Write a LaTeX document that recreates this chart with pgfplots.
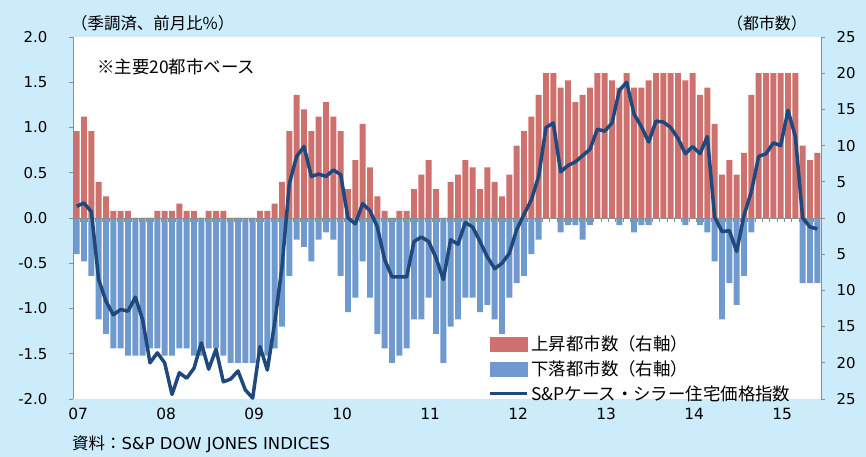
\documentclass[border=0pt]{standalone}
\usepackage{pgfplots}
\pgfplotsset{compat=1.18}
\usepackage{pgfplotstable}
\usepackage{fontspec}
\setmainfont{Noto Sans CJK JP}
\newfontfamily\numfont{DejaVu Sans}
\definecolor{bgblue}{RGB}{204,236,252}
\definecolor{upred}{RGB}{205,113,110}
\definecolor{dnblue}{RGB}{112,154,205}
\definecolor{navy}{RGB}{31,73,125}
\definecolor{axgray}{RGB}{140,140,140}

\pgfplotstableread{
i up dn v
0 12 5 0.13
1 14 6 0.165
2 12 8 0.07
3 5 14 -0.68
4 3 16 -0.92
5 1 18 -1.07
6 1 18 -1.01
7 1 19 -1.03
8 0 19 -0.875
9 0 19 -1.125
10 0 18 -1.60
11 1 18 -1.49
12 1 19 -1.60
13 1 19 -1.95
14 2 18 -1.71
15 1 18 -1.77
16 1 19 -1.66
17 0 19 -1.38
18 1 18 -1.67
19 1 18 -1.45
20 1 19 -1.81
21 0 20 -1.78
22 0 20 -1.69
23 0 20 -1.90
24 0 20 -1.99
25 1 19 -1.42
26 1 19 -1.68
27 2 18 -1.16
28 5 15 -0.54
29 12 8 0.38
30 17 3 0.68
31 15 4 0.79
32 12 6 0.46
33 14 3 0.485
34 16 2 0.46
35 14 3 0.53
36 12 8 0.48
37 4 13 0.0
38 8 11 -0.065
39 13 6 0.16
40 7 11 0.08
41 3 16 -0.1
42 1 18 -0.46
43 0 20 -0.65
44 1 19 -0.65
45 1 18 -0.65
46 4 14 -0.26
47 6 14 -0.21
48 8 11 -0.26
49 4 16 -0.44
50 0 20 -0.68
51 5 15 -0.24
52 6 14 -0.29
53 8 11 -0.05
54 7 11 -0.1
55 4 13 -0.26
56 7 12 -0.43
57 5 14 -0.56
58 3 16 -0.5
59 6 11 -0.39
60 10 9 -0.13
61 12 8 0.04
62 14 5 0.2
63 17 3 0.46
64 20 0 1.0
65 20 0 1.05
66 18 2 0.51
67 19 1 0.58
68 16 1 0.62
69 17 3 0.69
70 18 1 0.76
71 20 0 0.98
72 20 0 0.96
73 19 0 1.05
74 18 1 1.41
75 20 0 1.50
76 18 2 1.15
77 18 1 1.01
78 19 1 0.84
79 20 0 1.07
80 20 0 1.06
81 20 0 1.0
82 20 0 0.88
83 19 1 0.71
84 20 0 0.79
85 17 1 0.71
86 18 2 0.9
87 13 6 0.01
88 6 14 -0.15
89 8 9 -0.14
90 6 12 -0.37
91 9 8 0.03
92 17 2 0.29
93 20 0 0.68
94 20 0 0.71
95 20 0 0.83
96 20 0 0.8
97 20 0 1.19
98 20 0 0.9
99 10 9 0.0
100 8 9 -0.1
101 9 9 -0.12
}\data

\begin{document}
\begin{tikzpicture}
\useasboundingbox (0,0) rectangle (866bp,457bp);
\fill[bgblue] (0,0) rectangle (866bp,457bp);
\begin{axis}[
  at={(73bp,58bp)}, anchor=south west, scale only axis,
  width=748bp, height=362bp,
  xmin=-0.5, xmax=101.5, ymin=-25, ymax=25,
  axis background/.style={fill=white},
  axis y line*=right, axis x line*=middle,
  axis on top,
  axis line style={axgray, line width=0.8bp},
  ytick={-25,-20,-15,-10,-5,0,5,10,15,20,25},
  yticklabels={25,20,15,10,5,0,5,10,15,20,25},
  ytick align=outside, xtick align=outside,
  major tick length=4bp,
  tick style={axgray, line width=0.8bp},
  xtick={-0.5,0.5,...,101.5}, xticklabels={},
  yticklabel style={font=\numfont\fontsize{15}{17}\selectfont, xshift=8bp, text=black},
]
\addplot[ybar, bar width=0.8, bar shift=0pt, fill=upred, draw=none] table[x=i, y=up] {\data};
\addplot[ybar, bar width=0.8, bar shift=0pt, fill=dnblue, draw=none] table[x=i, y expr=-\thisrow{dn}] {\data};
\end{axis}
\begin{axis}[
  at={(73bp,58bp)}, anchor=south west, scale only axis,
  width=748bp, height=362bp,
  xmin=-0.5, xmax=101.5, ymin=-2, ymax=2,
  clip=false,
  axis y line*=left, axis x line*=bottom,
  axis line style={axgray, line width=0.8bp},
  x axis line style={draw=none},
  ytick={-2,-1.5,-1,-0.5,0,0.5,1,1.5,2},
  yticklabels={-2.0,-1.5,-1.0,-0.5,0.0,0.5,1.0,1.5,2.0},
  ytick align=outside,
  major tick length=4bp,
  y tick style={axgray, line width=0.8bp},
  x tick style={draw=none},
  xtick={0,12,24,36,48,60,72,84,96},
  xticklabels={07,08,09,10,11,12,13,14,15},
  yticklabel style={font=\numfont\fontsize{15}{17}\selectfont, xshift=-18bp, text=black},
  xticklabel style={font=\numfont\fontsize{15.5}{17}\selectfont, yshift=-6bp, xshift=1.5bp, text=black},
  legend style={at={(0.555,0.182)}, anchor=north west, draw=none, fill=none,
    inner sep=0pt, row sep=3.5bp, font=\fontsize{17.5}{19}\selectfont,
    nodes={inner sep=2.5bp, text=black}},
  legend cell align=left,
]
\addlegendimage{legend image code/.code={\fill[upred] (0bp,-7bp) rectangle (37bp,7bp);}}
\addlegendentry{上昇都市数（右軸）}
\addlegendimage{legend image code/.code={\fill[dnblue] (0bp,-7bp) rectangle (37bp,7bp);}}
\addlegendentry{下落都市数（右軸）}
\addplot[navy, line width=3.5bp, line join=round, mark=none,
  legend image code/.code={\draw[navy, line width=3.5bp] (0bp,0bp) -- (37bp,0bp);}]
  table[x=i, y=v] {\data};
\addlegendentry{S\&Pケース・シラー住宅価格指数}
\end{axis}
\node[anchor=west, inner sep=0pt, font=\fontsize{16.5}{18}\selectfont] at (71bp,434bp) {（季調済、前月比\%）};
\node[anchor=east, inner sep=0pt, font=\fontsize{16}{18}\selectfont] at (807bp,434bp) {（都市数）};
\node[anchor=west, inner sep=0pt, font=\fontsize{17.5}{19}\selectfont] at (97bp,390bp) {※主要20都市ベース};
\node[anchor=west, inner sep=0pt, font=\fontsize{16.5}{18}\selectfont] at (72bp,13bp) {資料：{\numfont S\&P DOW JONES INDICES}};
\end{tikzpicture}
\end{document}
